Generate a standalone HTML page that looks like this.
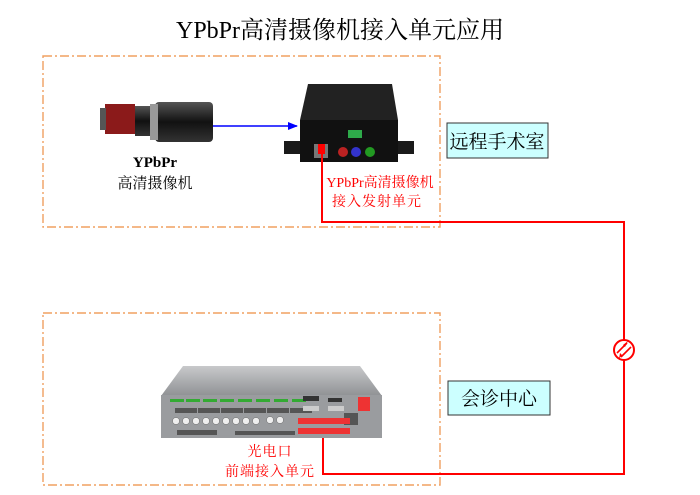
<!DOCTYPE html>
<html><head><meta charset="utf-8"><style>
html,body{margin:0;padding:0;background:#fff;width:700px;height:495px;overflow:hidden}
svg text{font-family:"Liberation Serif","Noto Serif CJK SC",serif}
</style></head><body>
<svg width="700" height="495" viewBox="0 0 700 495" xmlns="http://www.w3.org/2000/svg">
<defs>
<marker id="ab" markerWidth="10" markerHeight="8" refX="9" refY="4" orient="auto" markerUnits="userSpaceOnUse"><path d="M0,0 L10,4 L0,8 z" fill="#0000ff"/></marker>
<linearGradient id="lens" x1="0" y1="0" x2="0" y2="1"><stop offset="0" stop-color="#555"/><stop offset="0.5" stop-color="#111"/><stop offset="1" stop-color="#333"/></linearGradient>
<linearGradient id="rt" x1="0" y1="0" x2="0" y2="1"><stop offset="0" stop-color="#c8c9cb"/><stop offset="1" stop-color="#8f9194"/></linearGradient>
</defs>
<text x="340" y="38" text-anchor="middle" font-size="24" fill="#000">YPbPr高清摄像机接入单元应用</text>
<g fill="none" stroke="#f0a060" stroke-width="1.4" stroke-dasharray="9,3,2,3">
<rect x="43" y="56" width="397" height="171"/>
<rect x="43" y="313" width="397" height="172"/>
</g>
<!-- camera -->
<rect x="105" y="104" width="30" height="30" fill="#8b1a1a"/>
<rect x="100" y="108" width="6" height="22" fill="#555"/>
<rect x="135" y="106" width="20" height="30" fill="url(#lens)"/>
<rect x="155" y="102" width="58" height="40" rx="4" fill="url(#lens)"/>
<rect x="150" y="104" width="8" height="36" fill="#999"/>
<text x="155" y="167" text-anchor="middle" font-size="15" font-weight="bold">YPbPr</text>
<text x="155" y="188" text-anchor="middle" font-size="15">高清摄像机</text>
<line x1="213" y1="126" x2="297" y2="126" stroke="#0000ff" stroke-width="1.5" marker-end="url(#ab)"/>
<!-- box device -->
<rect x="284" y="141" width="130" height="13" fill="#1a1a1a"/>
<polygon points="308,84 392,84 398,120 300,120" fill="#222"/>
<rect x="300" y="120" width="98" height="42" fill="#111"/>
<rect x="348" y="130" width="14" height="8" fill="#2eaa4a"/>
<rect x="314" y="144" width="14" height="14" fill="#777"/>
<rect x="318" y="144" width="7" height="10" fill="#f00"/>
<circle cx="343" cy="152" r="5" fill="#b22"/><circle cx="356" cy="152" r="5" fill="#33c"/><circle cx="370" cy="152" r="5" fill="#292"/>
<text x="380" y="187" text-anchor="middle" font-size="14" fill="#f00">YPbPr高清摄像机</text>
<text x="377" y="206" text-anchor="middle" font-size="14" fill="#f00" letter-spacing="1">接入发射单元</text>
<rect x="447" y="123" width="101" height="35" fill="#ccffff" stroke="#333"/>
<text x="497" y="148" text-anchor="middle" font-size="19" font-family="Liberation Sans,Noto Sans CJK SC,sans-serif">远程手术室</text>
<rect x="448" y="381" width="102" height="34" fill="#ccffff" stroke="#333"/>
<text x="499" y="405" text-anchor="middle" font-size="19" font-family="Liberation Sans,Noto Sans CJK SC,sans-serif">会诊中心</text>
<!-- rack -->
<polygon points="183,366 360,366 382,396 161,396" fill="url(#rt)"/>
<rect x="161" y="395" width="221" height="43" fill="#9a9c9f"/>
<g fill="#3a3" ><rect x="170" y="399" width="14" height="3"/><rect x="186" y="399" width="14" height="3"/><rect x="203" y="399" width="14" height="3"/><rect x="220" y="399" width="14" height="3"/><rect x="238" y="399" width="14" height="3"/><rect x="256" y="399" width="14" height="3"/><rect x="274" y="399" width="14" height="3"/><rect x="292" y="399" width="14" height="3"/></g>
<g fill="#555"><rect x="175" y="408" width="22" height="5"/><rect x="198" y="408" width="22" height="5"/><rect x="221" y="408" width="22" height="5"/><rect x="244" y="408" width="22" height="5"/><rect x="267" y="408" width="22" height="5"/><rect x="290" y="408" width="22" height="5"/>
<rect x="235" y="431" width="60" height="4"/><rect x="177" y="430" width="40" height="5"/><rect x="344" y="413" width="14" height="12"/></g>
<g fill="#eee" stroke="#666" stroke-width="0.5"><circle cx="176" cy="421" r="3.5"/><circle cx="186" cy="421" r="3.5"/><circle cx="196" cy="421" r="3.5"/><circle cx="206" cy="421" r="3.5"/><circle cx="216" cy="421" r="3.5"/><circle cx="226" cy="421" r="3.5"/><circle cx="236" cy="421" r="3.5"/><circle cx="246" cy="421" r="3.5"/><circle cx="256" cy="421" r="3.5"/><circle cx="270" cy="420" r="3.5"/><circle cx="280" cy="420" r="3.5"/></g>
<g fill="#e33"><rect x="298" y="418" width="52" height="6"/><rect x="298" y="428" width="52" height="6"/><rect x="358" y="397" width="12" height="14"/></g>
<g fill="#333"><rect x="303" y="396" width="16" height="5"/><rect x="328" y="398" width="14" height="4"/></g>
<g fill="#ccc"><rect x="303" y="406" width="16" height="5"/><rect x="328" y="406" width="16" height="5"/></g>
<text x="270" y="456" text-anchor="middle" font-size="14" fill="#f00" letter-spacing="1">光电口</text>
<text x="270" y="476" text-anchor="middle" font-size="14" fill="#f00" letter-spacing="1">前端接入单元</text>
<!-- red fiber -->
<polyline points="322,152 322,222 624,222 624,474 323,474 323,438" fill="none" stroke="#f00" stroke-width="2"/>
<circle cx="624" cy="350" r="10" fill="#fff" stroke="#f00" stroke-width="2"/>
<g stroke="#f00" stroke-width="1.6"><line x1="617" y1="353" x2="627" y2="343"/><line x1="621" y1="357" x2="631" y2="347"/></g>
<polygon points="628,341 625,347 623,345" fill="#f00"/><polygon points="619,359 620,353 622,355" fill="#f00"/>
</svg>
</body></html>
